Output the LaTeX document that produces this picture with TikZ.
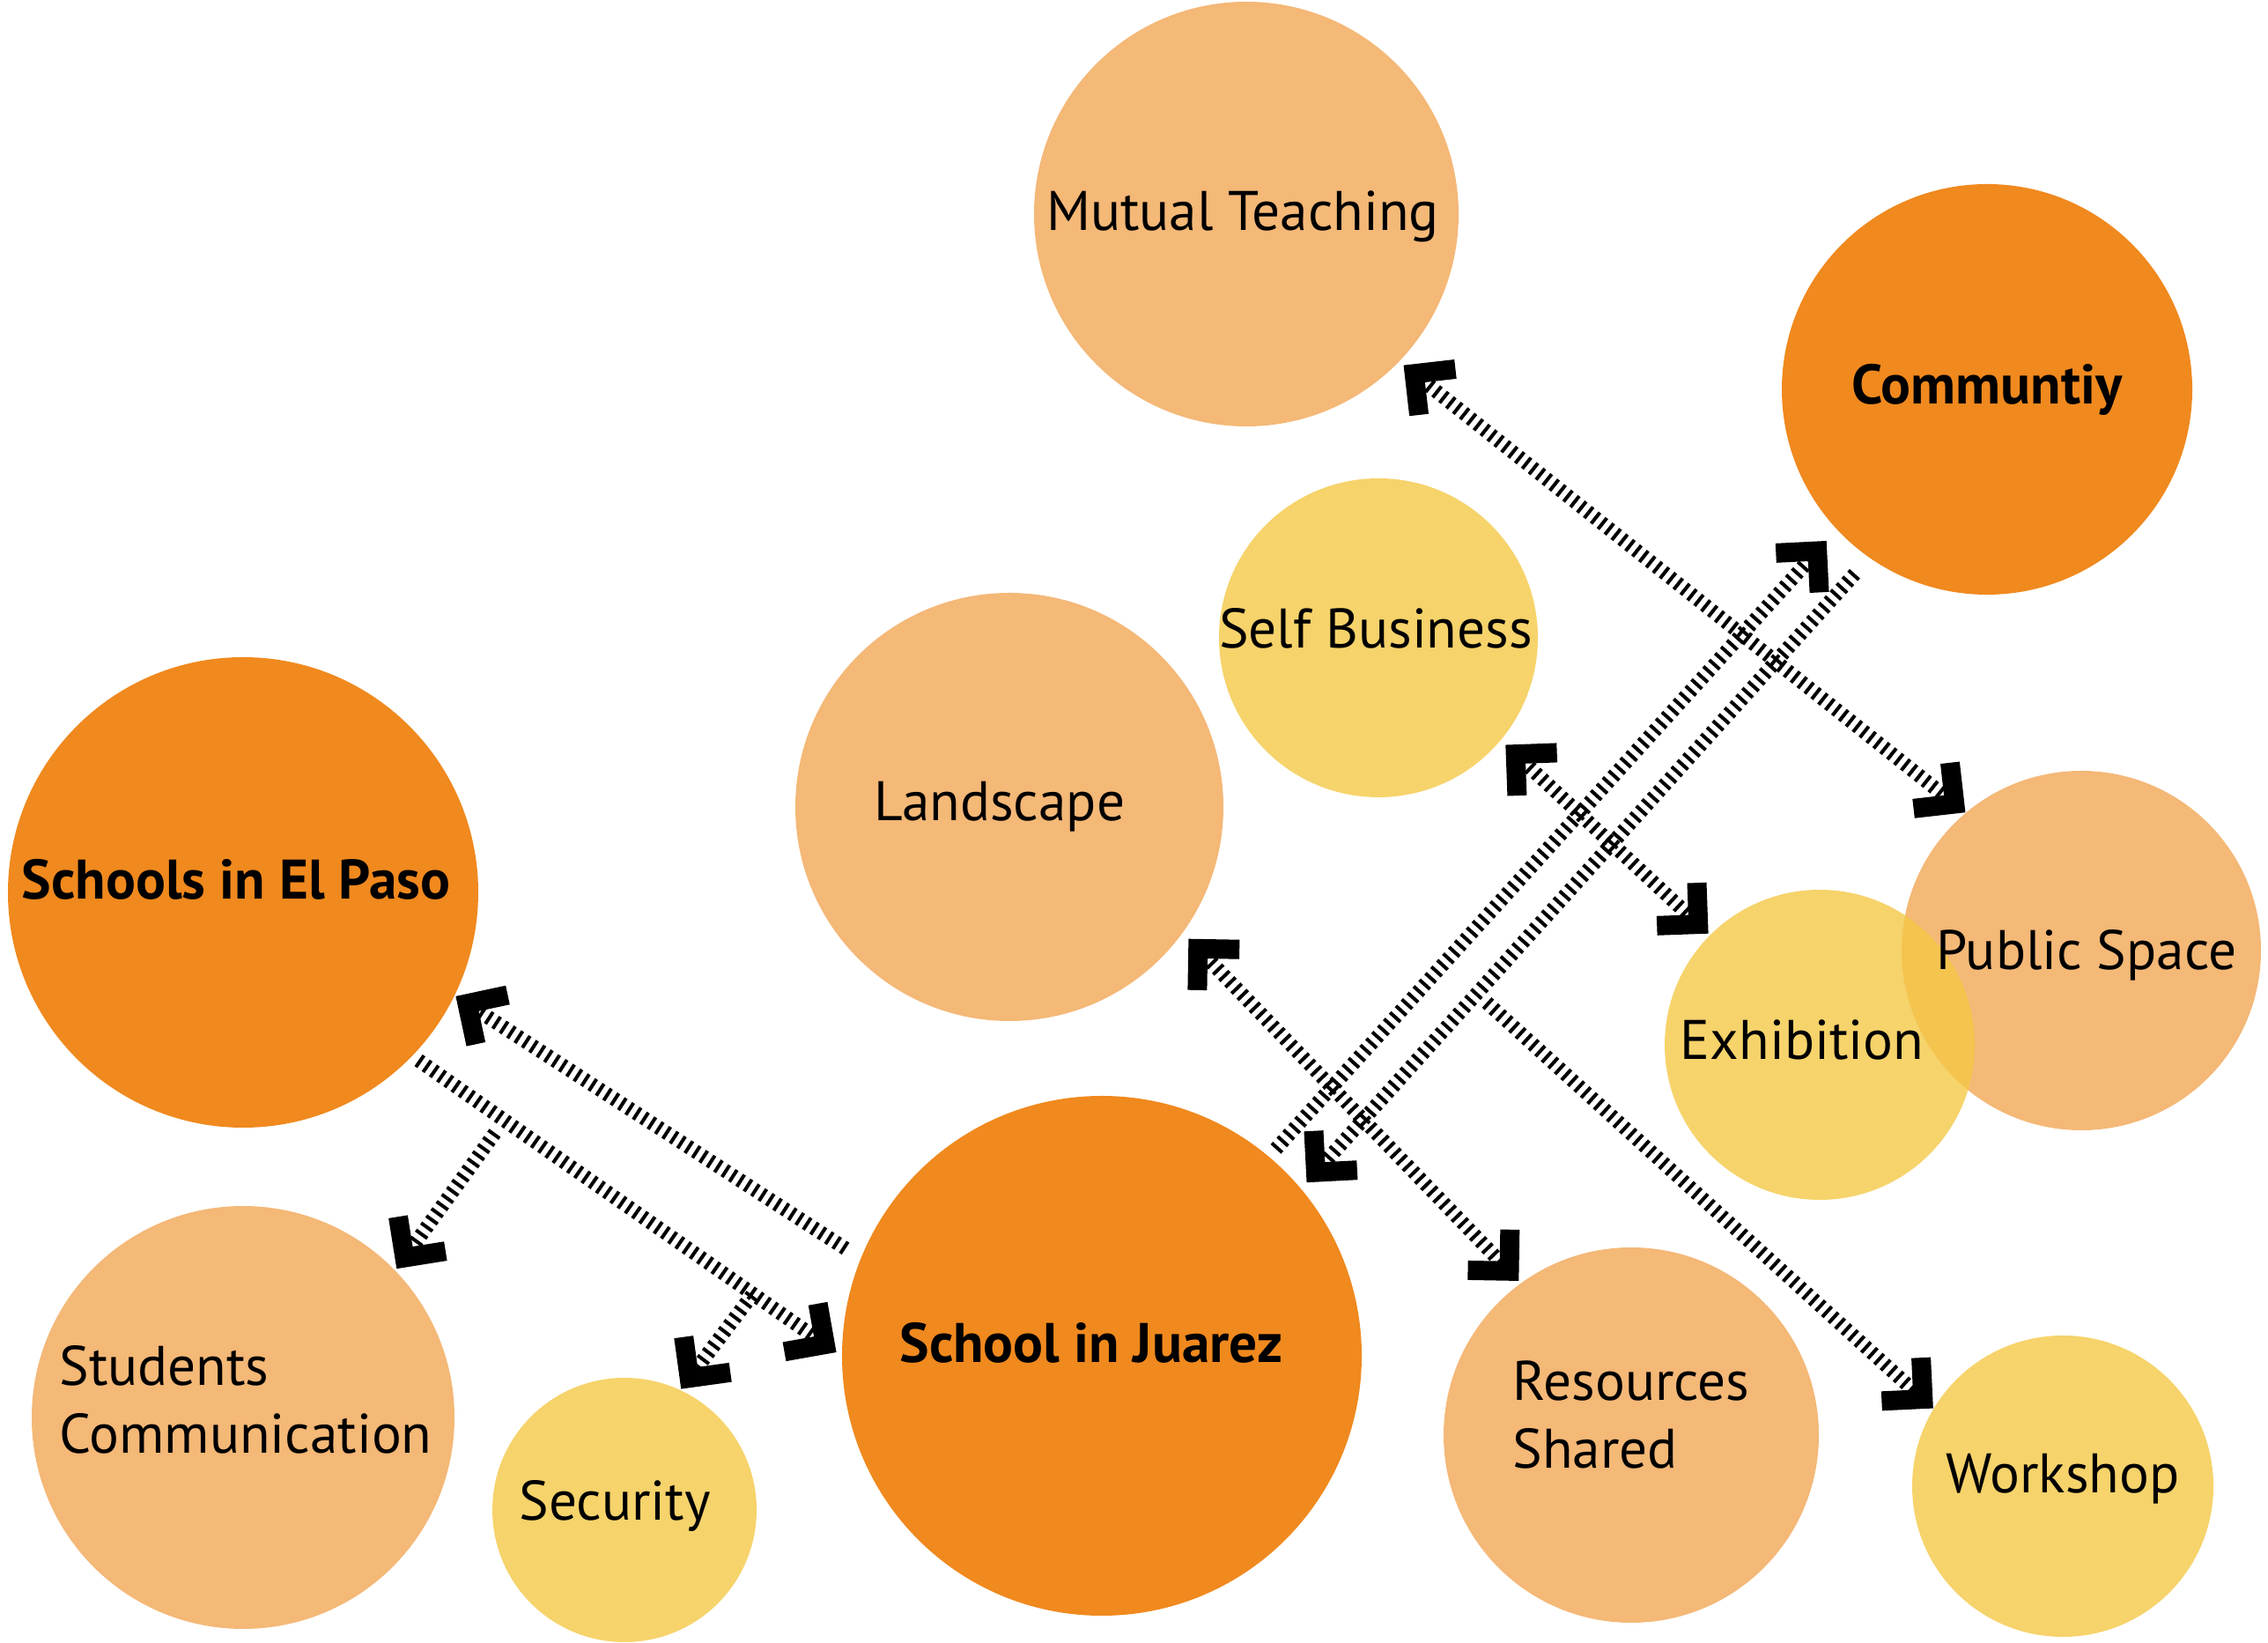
\documentclass[tikz,border=0pt]{standalone}
\usepackage{fontspec}
\setmainfont{PT Sans}
\usetikzlibrary{arrows.meta}
\definecolor{deep}{RGB}{240,137,30}
\definecolor{pale}{RGB}{244,184,119}
\definecolor{sun}{RGB}{246,211,107}
\definecolor{sunbase}{RGB}{244,200,70}
\begin{document}
\begin{tikzpicture}[
    font=\fontsize{18}{22}\selectfont,
    hub/.style={circle, inner sep=0pt, fill=deep},
    topic/.style={circle, inner sep=0pt, fill=pale},
    minor/.style={circle, inner sep=0pt, fill=sun},
    hubtext/.style={font=\fontsize{18}{22}\selectfont\bfseries},
    plaintext/.style={align=left},
    link/.style={line width=0.16cm, dash pattern=on 0.04cm off 0.06cm,
        >={Straight Barb[angle=90:0.47cm, line width=0.22cm 0, line join=miter]}}
]
\useasboundingbox (0,0) rectangle (25.75,18.65);

% Bubbles
\node[topic, minimum size=4.82cm] (mut) at (14.15,16.22) {};
\node[hub, minimum size=4.66cm] (com) at (22.56,14.23) {};
\node[minor, minimum size=3.62cm] (sel) at (15.65,11.41) {};
\node[topic, minimum size=4.86cm] (lan) at (11.46,9.49) {};
\node[hub, minimum size=5.34cm] (elp) at (2.76,8.52) {};
\node[topic, minimum size=4.08cm] (pub) at (23.63,7.86) {};
\node[minor, minimum size=3.52cm, fill=sunbase, fill opacity=.8] (exh) at (20.66,6.79) {};
\node[hub, minimum size=5.9cm] (jua) at (12.51,3.26) {};
\node[topic, minimum size=4.8cm] (stu) at (2.76,2.56) {};
\node[minor, minimum size=3cm] (sec) at (7.09,1.51) {};
\node[topic, minimum size=4.26cm] (res) at (18.52,2.36) {};
\node[minor, minimum size=3.42cm] (wor) at (23.42,1.78) {};

% Bubble texts
\node (muttxt) at ([shift={(-0.04,-0.03)}]mut) {Mutual Teaching};
\node[hubtext] (comtxt) at (com) {Communtiy};
\node (seltxt) at ([shift={(-0.03,0.11)}]sel) {Self Business};
\node (lantxt) at ([shift={(-0.11,0)}]lan) {Landscape};
\node[hubtext] (elptxt) at ([shift={(-0.08,0.15)}]elp) {Schools in El Paso};
\node (pubtxt) at ([shift={(0.06,-0.05)}]pub) {Public Space};
\node (exhtxt) at ([shift={(-0.2,0.06)}]exh) {Exhibition};
\node[hubtext] (juatxt) at ([shift={(-0.12,0.15)}]jua) {School in Juarez};
\node[plaintext] (stutxt) at ([shift={(0.03,0.2)}]stu) {Students\\Communication};
\node (sectxt) at ([shift={(-0.11,0.05)}]sec) {Security};
\node[plaintext] (restxt) at ([shift={(0,0.23)}]res) {Resources\\Shared};
\node (wortxt) at ([shift={(0,0.08)}]wor) {Workshop};

% Branch points
\coordinate (forkF) at (16.88,7.27);
\coordinate (forkI) at (5.62,5.79);
\coordinate (forkJ) at (8.54,3.95);

% Links
\draw[link, <->, shorten <=0.06cm] (mut.-44) -- (pub.130);
\draw[link, <->, shorten <=0.07cm, shorten >=0.02cm] (sel.-40.5) -- (exh.135.5);
\draw[link, ->, shorten <=0.11cm, shorten >=0.17cm] (jua.50.7) -- (com.223.2);
\draw[link, ->, shorten <=0.24cm, shorten >=0.09cm] (com.235.4) -- (jua.40.3);
\draw[link, <->, shorten <=0.09cm, shorten >=0.03cm] (lan.-36) -- (res.126.3);
\draw[link, ->] (forkF) -- (wor.149.2);
\draw[link, ->, shorten <=0.2cm, shorten >=0.01cm] (jua.158.8) -- (elp.-26.1);
\draw[link, ->, shorten <=0.08cm, shorten >=0.07cm] (elp.-44.9) -- (jua.180);
\draw[link, ->, shorten >=0.02cm] (forkI) -- (stu.44.8);
\draw[link, ->, shorten >=0.01cm] (forkJ) -- (sec.65.3);

\end{tikzpicture}
\end{document}
